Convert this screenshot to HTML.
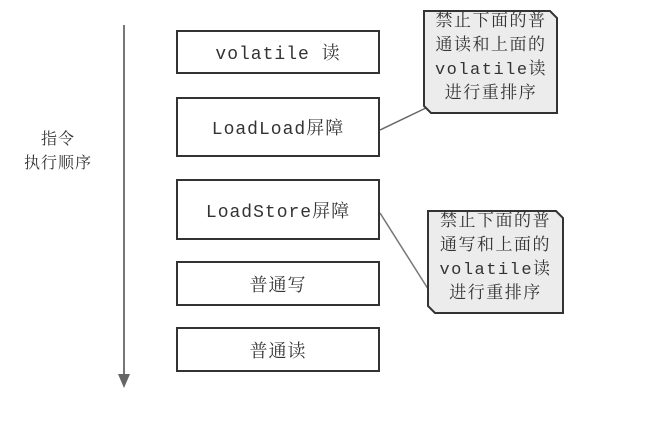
<!DOCTYPE html>
<html><head><meta charset="utf-8"><style>
body{margin:0;width:653px;height:430px;background:#fff;overflow:hidden;position:relative;font-family:"Liberation Mono","Noto Serif CJK SC","Noto Sans CJK SC",monospace;color:#333}
.box{position:absolute;left:176px;width:200px;border:2px solid #333;display:flex;align-items:center;justify-content:center;font-size:18px;letter-spacing:1px;background:#fff}
.lbl{position:absolute;font-size:16px;text-align:center;line-height:24px;letter-spacing:1px}
.note{position:absolute;font-size:17px;letter-spacing:1.5px;line-height:24px;text-align:center}
</style></head><body>
<svg width="653" height="430" style="position:absolute;left:0;top:0">
<line x1="124" y1="25" x2="124" y2="378" stroke="#777" stroke-width="2"/>
<polygon points="118,374 130,374 124,388" fill="#666"/>
<line x1="380" y1="130" x2="428" y2="107" stroke="#666" stroke-width="1.5"/>
<line x1="380" y1="213" x2="430" y2="292" stroke="#777" stroke-width="1.5"/>
<polygon points="424,11 550,11 557,18 557,113 431,113 424,106" fill="#ececec" stroke="#333" stroke-width="2"/>
<polygon points="428,211 556,211 563,218 563,313 435,313 428,306" fill="#ececec" stroke="#333" stroke-width="2"/>
</svg>
<div class="box" style="top:30px;height:40px">volatile 读</div>
<div class="box" style="top:97px;height:56px">LoadLoad屏障</div>
<div class="box" style="top:179px;height:57px">LoadStore屏障</div>
<div class="box" style="top:261px;height:41px">普通写</div>
<div class="box" style="top:327px;height:41px">普通读</div>
<div class="lbl" style="left:18px;top:128px;width:80px">指令<br>执行顺序</div>
<div class="note" style="left:424px;top:11px;width:134px">禁止下面的普<br>通读和上面的<br>volatile读<br>进行重排序</div>
<div class="note" style="left:428px;top:211px;width:135px">禁止下面的普<br>通写和上面的<br>volatile读<br>进行重排序</div>
</body></html>
